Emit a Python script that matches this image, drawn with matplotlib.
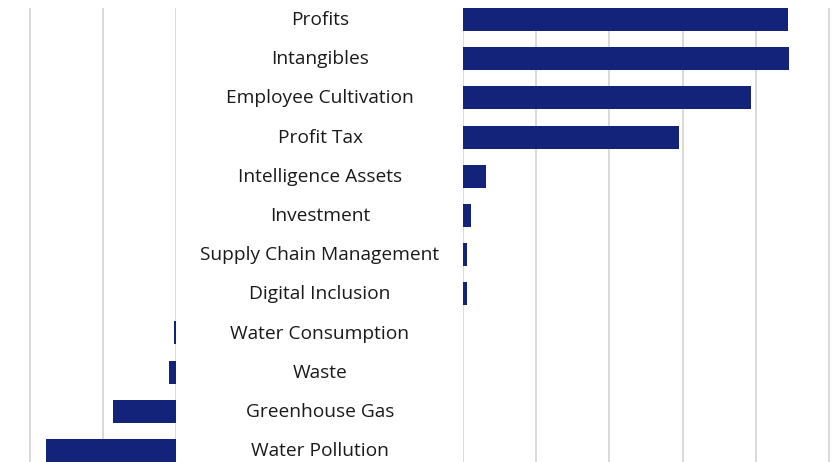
import matplotlib
matplotlib.use("Agg")
import matplotlib.pyplot as plt
import matplotlib.transforms as mtransforms

categories = ["Profits", "Intangibles", "Employee Cultivation", "Profit Tax",
              "Intelligence Assets", "Investment", "Supply Chain Management",
              "Digital Inclusion", "Water Consumption", "Waste",
              "Greenhouse Gas", "Water Pollution"]
values = [4.44, 4.46, 3.93, 2.95, 0.31, 0.11, 0.055, 0.055,
          -0.03, -0.095, -0.86, -1.77]
left_ticks = [-2, -1, 0]
right_ticks = [0, 1, 2, 3, 4, 5]

bar_color = "#13237a"
grid_color = "#d0d0d0"

W, H = 832, 462
fig = plt.figure(figsize=(W / 100, H / 100), dpi=100)

top_px, bot_px = 8, 462
ax_bottom = 1 - bot_px / H
ax_height = (bot_px - top_px) / H

unit = 73.2
axL = fig.add_axes([26 / W, ax_bottom, (176 - 26) / W, ax_height])
axR = fig.add_axes([463 / W, ax_bottom, (832 - 463) / W, ax_height])

ypos = list(range(len(categories)))
bh = 0.587
neg = [min(v, 0) for v in values]
pos = [max(v, 0) for v in values]

for ax, vals, ticks, lim in [(axL, neg, left_ticks, (-150 / unit, 0.0)),
                             (axR, pos, right_ticks, (0.0, 369 / unit))]:
    ax.barh(ypos, vals, height=bh, color=bar_color, zorder=3)
    ax.set_xlim(*lim)
    ax.set_ylim(len(categories) - 1 + bh / 2, -bh / 2)
    ax.set_xticks(ticks)
    ax.set_yticks([])
    ax.grid(axis="x", color=grid_color, linewidth=1.1, zorder=0)
    ax.tick_params(axis="x", length=0, labelbottom=False)
    for s in ax.spines.values():
        s.set_visible(False)
    ax.set_axisbelow(True)

trans = mtransforms.blended_transform_factory(fig.transFigure, axR.transData)
trans = mtransforms.offset_copy(trans, fig=fig, x=0, y=-5.6, units="dots")
for y, c in zip(ypos, categories):
    fig.text(320 / W, y, c, transform=trans, ha="center", va="baseline",
             fontsize=13.8, color="#1a1a1a", family=["Open Sans", "DejaVu Sans"])

fig.savefig("out.png", dpi=100)
